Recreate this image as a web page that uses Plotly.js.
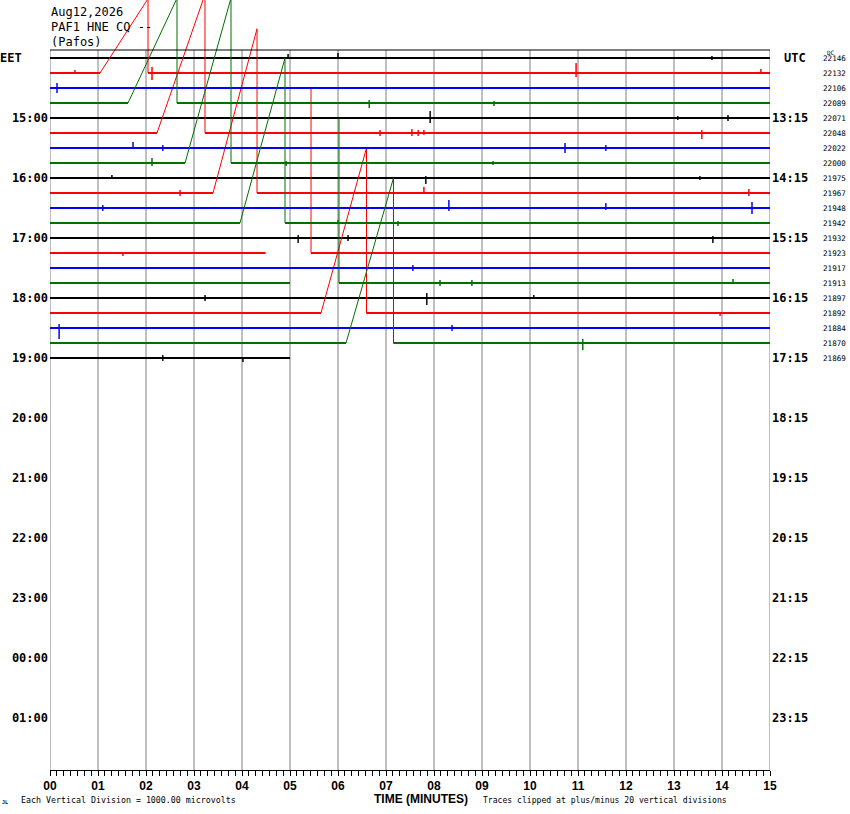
<!DOCTYPE html>
<html><head><meta charset="utf-8">
<script src="https://cdn.plot.ly/plotly-3.0.1.min.js"></script>
<style>html,body{margin:0;padding:0;background:#fff;}#chart{width:850px;height:814px;}</style>
</head><body><div id="chart"></div>
<script>
// ---------------- data ----------------
const stationLines = ['Aug12,2026', 'PAF1 HNE CQ --', '(Pafos)'];
const minuteTicks = [0,1,2,3,4,5,6,7,8,9,10,11,12,13,14,15];
const minuteLabels = ['00','01','02','03','04','05','06','07','08','09','10','11','12','13','14','15'];
const hourRows = [4,8,12,16,20,24,28,32,36,40,44];
const eetLabels = ['15:00','16:00','17:00','18:00','19:00','20:00','21:00','22:00','23:00','00:00','01:00'];
const utcLabels = ['13:15','14:15','15:15','16:15','17:15','18:15','19:15','20:15','21:15','22:15','23:15'];
const traceColors = ['#000000','#ff0000','#0000ff','#007000'];
const rowDC = [22146,22132,22106,22089,22071,22048,22022,22000,21975,21967,21948,21942,21932,21923,21917,21913,21897,21892,21884,21870,21869];
const rowEnd = [15,15,15,15,15,15,15,15,15,15,15,15,15,15,15,15,15,15,15,15,5.0];

// ramps (minutes, vertical divisions)
const rampRow   = [1, 3, 5, 7, 9, 11, 17, 19];
const rampStart = [1.042, 1.625, 2.229, 2.813, 3.396, 3.958, 5.646, 6.167];
const rampEnd   = [2.042, 2.646, 3.229, 3.771, 4.313, 4.896, 6.594, 7.156];
const rampPeak  = [9.0, 12.7, 16.8, 20, 19.9, 20, 20, 20];

// data gaps; trace resumes clipped then drops
const gapRow    = [13, 15];
const gapStart  = [4.49, 5.0];
const gapEnd    = [5.438, 6.021];
const gapResume = [20, 20];

// spikes: row, minute, up, down (vertical divisions)
const spikeRow  = [0,0,0,1,1,1,1,2,3,3,4,4,4,5,5,5,5,5,6,6,6,6,7,7,7,8,8,8,9,9,9,10,10,10,10,11,11,12,12,12,13,14,15,15,15,16,16,16,17,18,18,19,20,20];
const spikeT    = [4.96,6.00,13.79,0.52,2.125,10.96,14.81,0.146,6.65,9.25,7.92,14.125,13.08,6.875,7.54,7.67,7.79,13.58,1.73,2.35,10.73,11.58,2.125,4.92,9.23,1.29,7.83,13.54,2.71,7.79,14.56,1.10,8.31,11.58,14.625,6.0,7.25,5.17,6.21,13.81,1.52,7.56,8.125,8.79,14.23,3.23,7.85,10.08,13.96,0.19,8.375,11.1,2.35,4.02];
const spikeUp   = [0.48,0.60,0.24,0.36,0.73,1.2,0.48,0.6,0.36,0.24,0.85,0.36,0.24,0.36,0.48,0.36,0.36,0.36,0.73,0.36,0.6,0.36,0.6,0.24,0.24,0.36,0.24,0.24,0.36,0.73,0.48,0.36,0.97,0.6,0.73,0.36,0.24,0.36,0.36,0.24,0,0.36,0.36,0.36,0.48,0.36,0.6,0.36,0,0.48,0.36,0.48,0.36,0];
const spikeDown = [0.12,0.12,0.24,0,0.85,0.48,0,0.6,0.6,0.36,0.6,0.36,0.24,0.36,0.36,0.36,0.24,0.73,0,0.36,0.6,0.36,0.36,0.36,0.24,0,0.73,0.24,0.36,0.12,0.36,0.36,0.36,0.24,0.73,0,0.36,0.6,0.36,0.6,0.36,0.36,0.36,0.36,0,0.36,0.85,0,0.36,1.33,0.36,0.85,0.36,0.48];

// ---------------- drawing ----------------
const DIV = 0.55;               // rows per vertical division
const PLOT_L = 50, PLOT_W = 720, PLOT_H = 770;
const px2x = p => (p - PLOT_L) / PLOT_W;
const px2y = p => 1 - p / PLOT_H;
const nRows = rowDC.length;

const colorLines = traceColors.map(() => ({x: [], y: []}));
const colorBase  = traceColors.map(() => ({x: [], y: []}));

for (let r = 0; r < nRows; r++) {
  const ev = [];
  rampRow.forEach((rr, i) => { if (rr === r) ev.push({t: rampStart[i], k: 'ramp', i}); });
  gapRow.forEach((rr, i) => { if (rr === r) ev.push({t: gapStart[i], k: 'gap', i}); });
  spikeRow.forEach((rr, i) => { if (rr === r) ev.push({t: spikeT[i], k: 'spike', i}); });
  ev.sort((a, b) => a.t - b.t);
  const c = r % 4;
  const L = colorLines[c], B = colorBase[c];
  const Y = v => -r + v * DIV;
  const P = (t, v) => { L.x.push(t); L.y.push(v === null ? null : Y(v)); };
  let segStart = 0;
  P(0, 0);
  ev.forEach(e => {
    if (e.k === 'spike') {
      P(e.t, 0); P(e.t, spikeUp[e.i]); P(e.t, -spikeDown[e.i]); P(e.t, 0);
    } else if (e.k === 'ramp') {
      P(rampStart[e.i], 0); P(rampEnd[e.i], rampPeak[e.i]); P(rampEnd[e.i], 0);
      B.x.push(segStart, rampStart[e.i], null); B.y.push(Y(0), Y(0), null);
      segStart = rampEnd[e.i];
    } else {
      P(gapStart[e.i], 0); P(gapStart[e.i], null);
      P(gapEnd[e.i], gapResume[e.i]); P(gapEnd[e.i], 0);
      B.x.push(segStart, gapStart[e.i], null); B.y.push(Y(0), Y(0), null);
      segStart = gapEnd[e.i];
    }
  });
  P(rowEnd[r], 0); P(rowEnd[r], null);
  B.x.push(segStart, rowEnd[r], null); B.y.push(Y(0), Y(0), null);
}

const traces = [];
traceColors.forEach((col, c) => {
  traces.push({x: colorBase[c].x, y: colorBase[c].y, type: 'scatter', mode: 'lines',
    line: {color: col, width: 1.9}, hoverinfo: 'skip', connectgaps: false, showlegend: false});
  traces.push({x: colorLines[c].x, y: colorLines[c].y, type: 'scatter', mode: 'lines',
    line: {color: col, width: 1}, hoverinfo: 'skip', connectgaps: false, showlegend: false});
});

const yTop = 58 / 15, yBot = -(PLOT_H - 58) / 15, frameTop = 8 / 15;

const shapes = minuteTicks.map(m => ({type: 'line', xref: 'x', yref: 'y', x0: m, x1: m,
  y0: frameTop, y1: yBot, line: {color: '#808080', width: 1}, layer: 'below'}));
shapes.push({type: 'line', xref: 'x', yref: 'y', x0: 0, x1: 15, y0: frameTop, y1: frameTop,
  line: {color: '#000', width: 1}});

const mono = 'DejaVu Sans Mono, monospace';
const annotations = [];
stationLines.forEach((s, i) => annotations.push({text: s, xref: 'paper', yref: 'paper',
  x: px2x(49), y: px2y(12 + 15 * i), xanchor: 'left', yanchor: 'middle', showarrow: false,
  font: {family: mono, size: 12, color: '#000'}}));
annotations.push({text: 'EET', xref: 'paper', yref: 'y', x: px2x(-2), y: 0, xanchor: 'left',
  yanchor: 'middle', showarrow: false, font: {family: mono, size: 12, weight: 'bold', color: '#000'}});
annotations.push({text: 'UTC', xref: 'paper', yref: 'y', x: px2x(795), y: 0, xanchor: 'center',
  yanchor: 'middle', showarrow: false, font: {family: mono, size: 12, weight: 'bold', color: '#000'}});
rowDC.forEach((d, r) => annotations.push({text: String(d), xref: 'paper', yref: 'y', x: px2x(821), y: -r,
  xanchor: 'left', yanchor: 'middle', showarrow: false, font: {family: mono, size: 7.6, color: '#000'}}));
annotations.push({text: 'DC', xref: 'paper', yref: 'paper', x: px2x(831), y: px2y(52), xanchor: 'center',
  yanchor: 'middle', showarrow: false, font: {family: mono, size: 6, color: '#000'}});
annotations.push({text: 'JL', xref: 'paper', yref: 'paper', x: px2x(5), y: px2y(802), xanchor: 'center',
  yanchor: 'middle', showarrow: false, font: {family: mono, size: 5, weight: 'bold', color: '#000'}});
annotations.push({text: 'Each Vertical Division = 1000.00 microvolts', xref: 'paper', yref: 'paper',
  x: px2x(19), y: px2y(800), xanchor: 'left', yanchor: 'middle', showarrow: false,
  font: {family: mono, size: 8.3, color: '#000'}});
annotations.push({text: 'TIME (MINUTES)', xref: 'paper', yref: 'paper', x: px2x(421), y: px2y(799),
  xanchor: 'center', yanchor: 'middle', showarrow: false,
  font: {family: 'Liberation Sans, Arial, sans-serif', size: 12, weight: 'bold', color: '#000'}});
annotations.push({text: 'Traces clipped at plus/minus 20 vertical divisions', xref: 'paper', yref: 'paper',
  x: px2x(481), y: px2y(800), xanchor: 'left', yanchor: 'middle', showarrow: false,
  font: {family: mono, size: 8.1, color: '#000'}});

const layout = {
  width: 850, height: 814,
  margin: {l: 50, r: 80, t: 0, b: 44, pad: 0},
  paper_bgcolor: '#fff', plot_bgcolor: '#fff',
  showlegend: false,
  xaxis: {range: [0, 15], tickvals: minuteTicks, ticktext: minuteLabels, ticks: 'outside',
    ticklen: 5, tickwidth: 1, tickcolor: '#000', showline: true, linecolor: '#000', linewidth: 1,
    showgrid: false, zeroline: false, fixedrange: true,
    minor: {dtick: 1 / 7, tick0: 0, ticks: 'outside', ticklen: 5, tickcolor: '#000', tickwidth: 1, showgrid: false},
    tickfont: {family: 'Liberation Sans, Arial, sans-serif', size: 12, weight: 'bold', color: '#000'}},
  yaxis: {range: [yBot, yTop], tickvals: hourRows.map(r => -r), ticktext: eetLabels, ticks: '',
    showgrid: false, zeroline: false, showline: false, fixedrange: true, ticklabelstandoff: 1,
    tickfont: {family: mono, size: 12, weight: 'bold', color: '#000'}},
  yaxis2: {range: [yBot, yTop], overlaying: 'y', side: 'right', tickvals: hourRows.map(r => -r),
    ticktext: utcLabels, ticks: '', showgrid: false, zeroline: false, showline: false, fixedrange: true,
    ticklabelstandoff: 1, tickfont: {family: mono, size: 12, weight: 'bold', color: '#000'}},
  shapes, annotations
};
traces.push({x: [0], y: [0], yaxis: 'y2', type: 'scatter', mode: 'markers', marker: {opacity: 0},
  hoverinfo: 'skip', showlegend: false});

Plotly.newPlot('chart', traces, layout, {displayModeBar: false, staticPlot: true});
</script></body></html>
